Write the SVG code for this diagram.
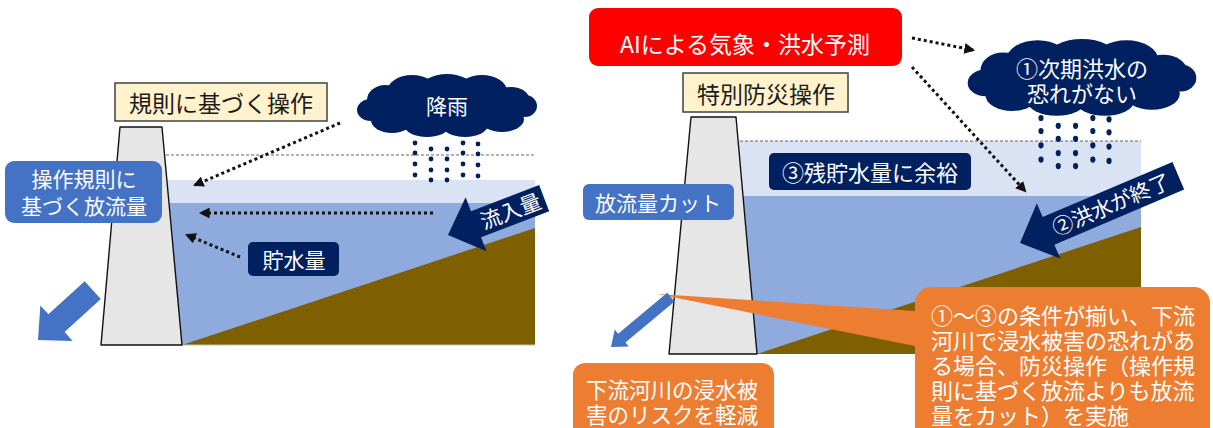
<svg xmlns="http://www.w3.org/2000/svg" width="1213" height="428" viewBox="0 0 1213 428">
  <style>
    text { font-family: "Noto Sans CJK JP", "Noto Sans", sans-serif; dominant-baseline: central; text-anchor: middle; }
    .w { fill: #ffffff; }
    .k { fill: #1a1a1a; }
    .dam { fill: #e6e6e6; stroke: #111; stroke-width: 1.4; stroke-linejoin: round; }
    .lite { fill: #dae3f3; }
    .deep { fill: #8faadc; }
    .soil { fill: #7f6000; }
    .lvl { stroke: #555; stroke-width: 0.9; stroke-dasharray: 3 2; fill: none; }
    .navy { fill: #002060; }
    .blue { fill: #4472c4; }
    .cream { fill: #fff2cc; stroke: #404040; stroke-width: 1.5; }
    .orange { fill: #ed7d31; }
    .dot { stroke: #111; stroke-width: 3; stroke-dasharray: 3 3; fill: none; marker-end: url(#ah); }
    .rain { fill: #002060; }
    .note { font-size: 22px; text-anchor: start; }
  </style>
  <defs>
    <marker id="ah" viewBox="0 0 10 10" refX="8" refY="5" markerWidth="3.6" markerHeight="3.6" orient="auto">
      <path d="M0,0 L10,5 L0,10 z" fill="#111"/>
    </marker>
    <g id="cloud">
      <ellipse cx="0" cy="2" rx="72" ry="22"/>
      <ellipse cx="-62" cy="-6" rx="18" ry="15"/>
      <ellipse cx="-35" cy="-14" rx="25" ry="17"/>
      <ellipse cx="0" cy="-17" rx="27" ry="15"/>
      <ellipse cx="35" cy="-15" rx="25" ry="16"/>
      <ellipse cx="64" cy="-5" rx="19" ry="14"/>
      <ellipse cx="-76" cy="4" rx="14" ry="11"/>
      <ellipse cx="78" cy="0" rx="12" ry="11"/>
      <ellipse cx="-55" cy="14" rx="21" ry="13"/>
      <ellipse cx="-20" cy="19" rx="23" ry="12"/>
      <ellipse cx="18" cy="19" rx="23" ry="12"/>
      <ellipse cx="55" cy="13" rx="22" ry="13"/>
    </g>
    <g id="drops">
      <circle cx="0" cy="0" r="2.4"/><circle cx="0" cy="10" r="2.4"/><circle cx="0" cy="21" r="2.4"/><circle cx="0" cy="32" r="2.4"/>
      <circle cx="16" cy="6" r="2.4"/><circle cx="16" cy="16" r="2.4"/><circle cx="16" cy="27" r="2.4"/><circle cx="16" cy="37" r="2.4"/>
      <circle cx="32" cy="6" r="2.4"/><circle cx="32" cy="16" r="2.4"/><circle cx="32" cy="27" r="2.4"/><circle cx="32" cy="37" r="2.4"/>
      <circle cx="48" cy="0" r="2.4"/><circle cx="48" cy="10" r="2.4"/><circle cx="48" cy="21" r="2.4"/><circle cx="48" cy="32" r="2.4"/>
      <circle cx="63" cy="1" r="2.4"/><circle cx="63" cy="11" r="2.4"/><circle cx="63" cy="22" r="2.4"/><circle cx="63" cy="33" r="2.4"/>
    </g>
  </defs>

  <!-- ===== Left: normal rule-based operation ===== -->
  <g id="reservoir-left">
    <rect class="lite" x="160" y="180" width="375" height="23"/>
    <rect class="deep" x="160" y="203" width="375" height="142"/>
    <polygon class="soil" points="182,345 535,228 535,345"/>
    <line class="lvl" x1="166" y1="155" x2="535" y2="155"/>
    <line x1="182" y1="345" x2="535" y2="345" stroke="#bfbfbf" stroke-width="1"/>
  </g>
  <g id="dam-left">
    <polygon class="dam" points="120,127 162,127 182,345 101,345"/>
  </g>
  <g id="rain-left">
    <use href="#cloud" class="navy" transform="translate(447,106)"/>
    <text class="w" x="447" y="105" font-size="21">降雨</text>
    <use href="#drops" class="rain" transform="translate(415,143)"/>
  </g>
  <g id="label-rule">
    <rect class="cream" x="115" y="83" width="212" height="38"/>
    <text class="k" x="221" y="102" font-size="23">規則に基づく操作</text>
  </g>
  <g id="label-release-left">
    <rect class="blue" x="5" y="161" width="157" height="62" rx="9"/>
    <text class="w" x="84" y="178" font-size="21">操作規則に</text>
    <text class="w" x="84" y="205" font-size="21">基づく放流量</text>
  </g>
  <g id="label-storage">
    <rect class="navy" x="248" y="242" width="91" height="34" rx="5"/>
    <text class="w" x="294" y="259" font-size="21">貯水量</text>
  </g>
  <g id="inflow-left" transform="translate(448,235) rotate(-21)">
    <polygon class="navy" points="0,0 30,-29 30,-14 103,-14 103,14 30,14 30,29"/>
    <text class="w" x="67" y="-1" font-size="21">流入量</text>
  </g>
  <g id="outflow-left" transform="translate(38,340) rotate(-42.3)">
    <polygon class="blue" points="0,0 25,-24 25,-12 74,-12 74,12 25,12 25,24"/>
  </g>

  <!-- ===== Right: special flood-control operation ===== -->
  <g id="reservoir-right">
    <rect class="lite" x="725" y="141" width="416" height="55"/>
    <rect class="deep" x="725" y="196" width="416" height="158"/>
    <polygon class="soil" points="757,354 1141,227 1141,354"/>
    <line class="lvl" x1="735" y1="141" x2="1141" y2="141"/>
  </g>
  <g id="dam-right">
    <polygon class="dam" points="691,117 736,117 757,354 669,354"/>
  </g>
  <g id="forecast">
    <rect x="589" y="8" width="313" height="58" rx="9" fill="#ff0000"/>
    <text class="w" x="745" y="43" font-size="23">AIによる気象・洪水予測</text>
  </g>
  <g id="label-special">
    <rect class="cream" x="683" y="73" width="165" height="39"/>
    <text class="k" x="766" y="93" font-size="23">特別防災操作</text>
  </g>
  <g id="rain-right">
    <use href="#cloud" class="navy" transform="translate(1082,78) scale(1.27,1.22)"/>
    <text class="w" x="1082" y="67" font-size="22">①次期洪水の</text>
    <text class="w" x="1082" y="92" font-size="22">恐れがない</text>
    <use href="#drops" class="rain" transform="translate(1041,118) scale(1.08,1.3)"/>
  </g>
  <g id="label-margin">
    <rect class="navy" x="769" y="153" width="202" height="37" rx="5"/>
    <text class="w" x="870" y="171" font-size="22">③残貯水量に余裕</text>
  </g>
  <g id="label-cut">
    <rect class="blue" x="583" y="184" width="151" height="36" rx="6"/>
    <text class="w" x="658" y="202" font-size="21">放流量カット</text>
  </g>
  <g id="flood-end" transform="translate(1020,243) rotate(-23)">
    <polygon class="navy" points="0,0 31,-30 31,-15 172,-15 172,15 31,15 31,30"/>
    <text class="w" x="99" y="-1" font-size="21">②洪水が終了</text>
  </g>
  <g id="callout">
    <polygon class="orange" points="657,294 930,312 930,349"/>
    <rect class="orange" x="915" y="287" width="295" height="170" rx="16"/>
    <text class="w note" x="931" y="314">①～③の条件が揃い、下流</text>
    <text class="w note" x="931" y="339">河川で浸水被害の恐れがあ</text>
    <text class="w note" x="931" y="364">る場合、防災操作（操作規</text>
    <text class="w note" x="931" y="389">則に基づく放流よりも放流</text>
    <text class="w note" x="931" y="414">量をカット）を実施</text>
  </g>
  <g id="outflow-right" transform="translate(611,347) rotate(-39.8)">
    <polygon class="blue" points="0,0 14,-11 14,-5.7 78,-5.7 78,5.7 14,5.7 14,11"/>
  </g>
  <g id="label-risk">
    <rect class="orange" x="573" y="363" width="201" height="80" rx="12"/>
    <text class="w" x="672" y="388" font-size="21.5">下流河川の浸水被</text>
    <text class="w" x="672" y="413" font-size="21.5">害のリスクを軽減</text>
  </g>

  <!-- dotted pointers -->
  <g id="connectors">
    <path class="dot" d="M340,123 L195,185"/>
    <path class="dot" d="M433,213 L201,213"/>
    <path class="dot" d="M240,257 L187,235"/>
    <path class="dot" d="M912,38 L973,50"/>
    <path class="dot" d="M912,67 L1025,191"/>
  </g>
</svg>
